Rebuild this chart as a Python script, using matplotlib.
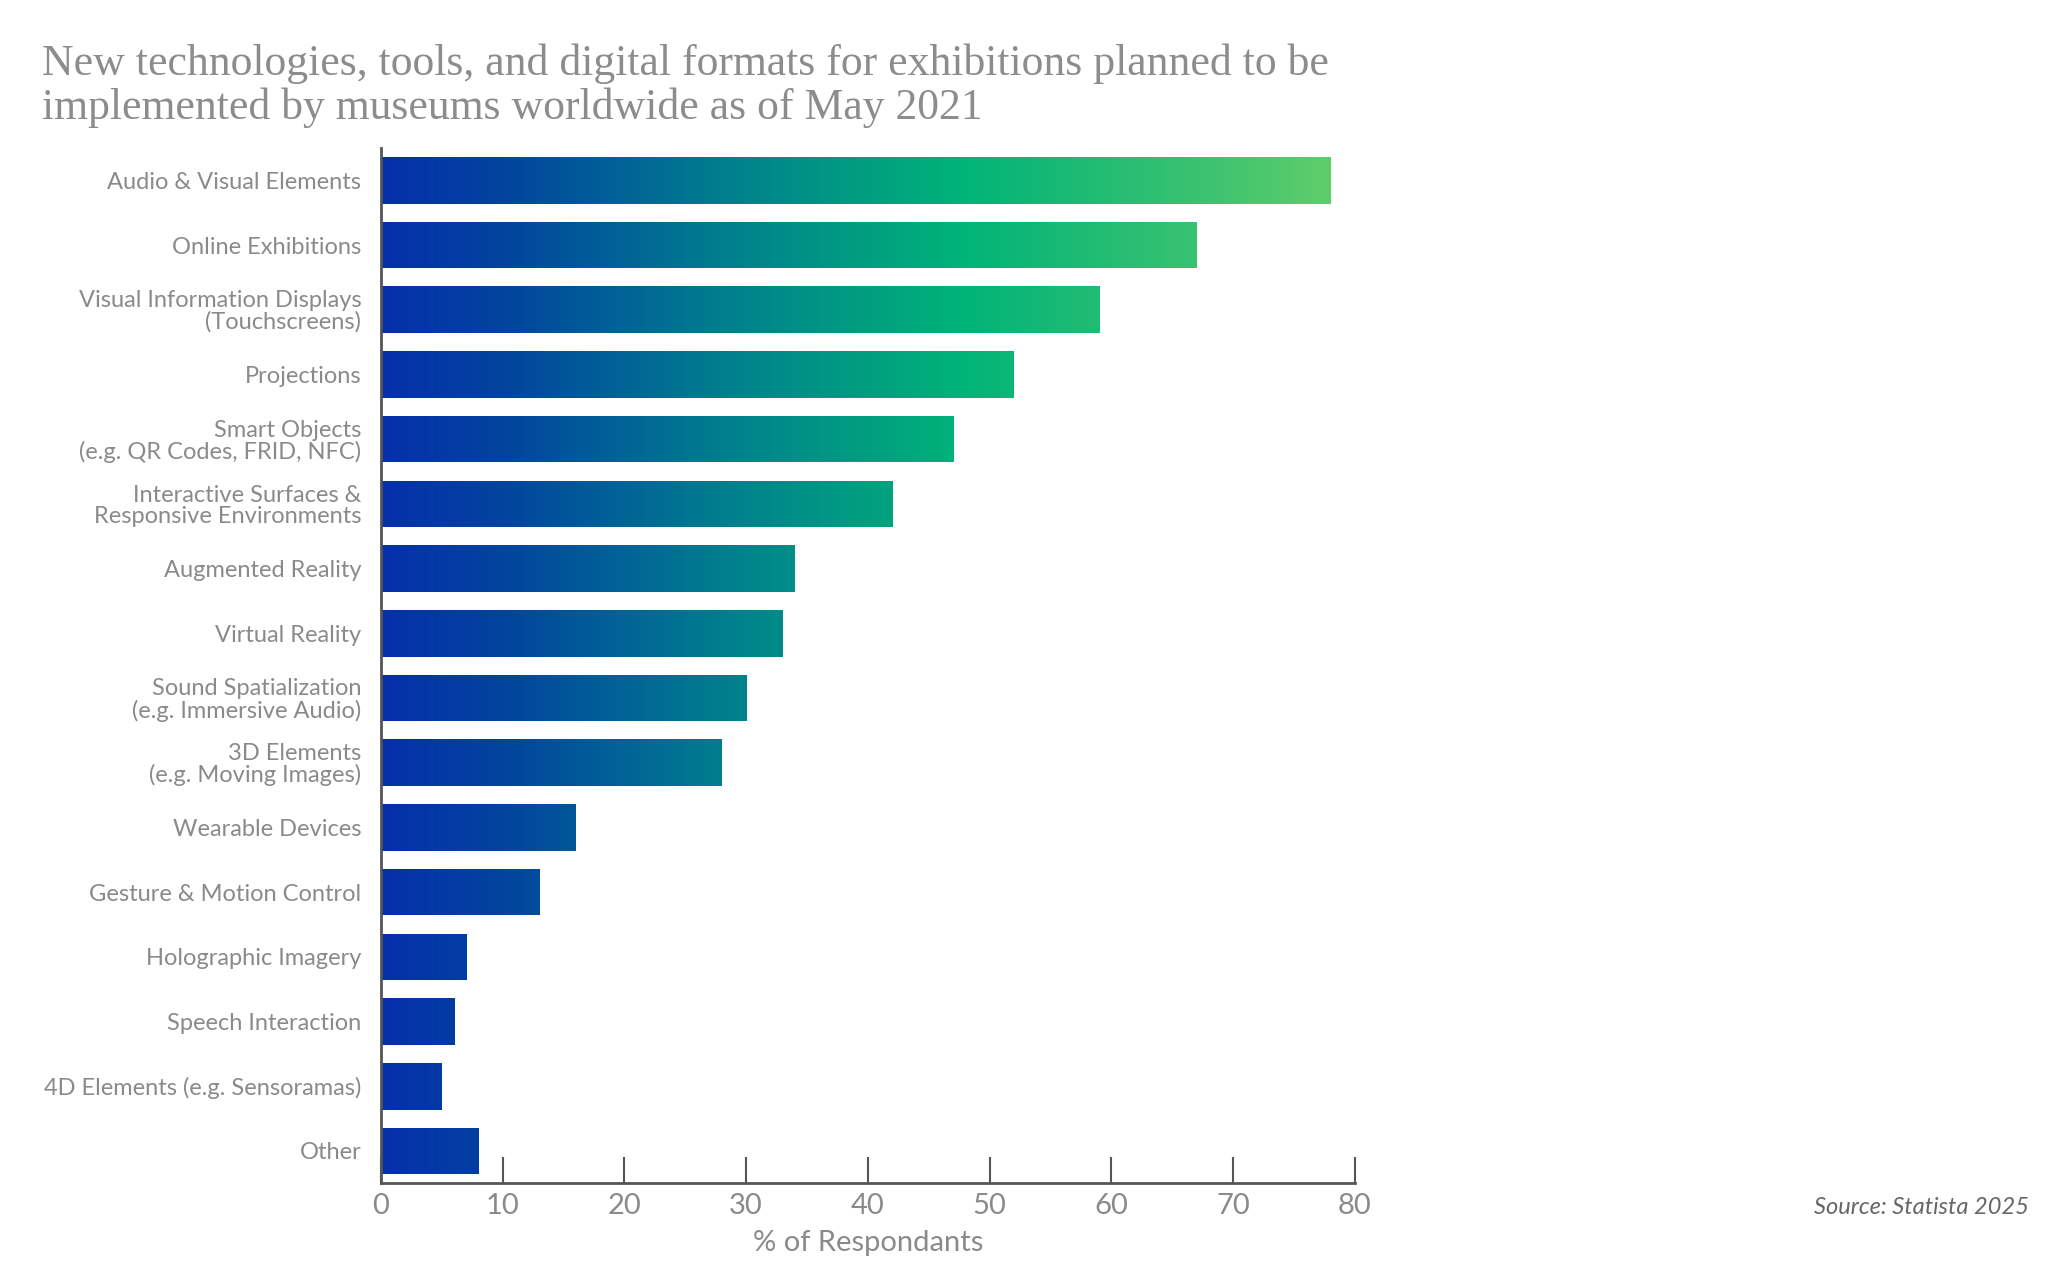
import numpy as np
import matplotlib
matplotlib.use('Agg')
import matplotlib.pyplot as plt
from matplotlib.colors import LinearSegmentedColormap

# Data
categories = [
    'Audio & Visual Elements',
    'Online Exhibitions',
    'Visual Information Displays\n(Touchscreens)',
    'Projections',
    'Smart Objects\n(e.g. QR Codes, FRID, NFC)',
    'Interactive Surfaces &\nResponsive Environments',
    'Augmented Reality',
    'Virtual Reality',
    'Sound Spatialization\n(e.g. Immersive Audio)',
    '3D Elements\n(e.g. Moving Images)',
    'Wearable Devices',
    'Gesture & Motion Control',
    'Holographic Imagery',
    'Speech Interaction',
    '4D Elements (e.g. Sensoramas)',
    'Other',
]
values = [78, 67, 59, 52, 47, 42, 34, 33, 30, 28, 16, 13, 7, 6, 5, 8]
xticks = [0, 10, 20, 30, 40, 50, 60, 70, 80]

title = ('New technologies, tools, and digital formats for exhibitions planned to be\n'
         'implemented by museums worldwide as of May 2021')

# gradient along the x axis (in data units 0..80)
grad_stops = [(0.0, '#0530aa'), (10 / 80, '#02449e'), (20 / 80, '#006496'),
              (30 / 80, '#00848c'), (40 / 80, '#009f80'), (48 / 80, '#00b478'),
              (58 / 80, '#1fbb74'), (68 / 80, '#3cc370'), (78 / 80, '#60cd6b'),
              (1.0, '#66cf6a')]
cmap = LinearSegmentedColormap.from_list('museum', grad_stops)

plt.rcParams['font.family'] = ['Lato', 'DejaVu Sans']

fig = plt.figure(figsize=(20.48, 12.82), dpi=100)
ax = fig.add_axes([0.186, 0.077, 0.4755, 0.8076])

y = np.arange(len(categories))
bars = ax.barh(y, values, height=0.72, color='none', edgecolor='none')

# fill each bar with the shared horizontal gradient
grad = np.linspace(0, 1, 512).reshape(1, -1)
for b in bars:
    im = ax.imshow(grad, cmap=cmap, aspect='auto', extent=(0, 80, 15.5, -0.5),
                   zorder=2, interpolation='bicubic')
    im.set_clip_path(b)

ax.set_xlim(0, 80)
ax.set_ylim(15.5, -0.5)
ax.set_yticks(y)
ax.set_yticklabels(categories, fontsize=17, color='#8a8a8a', linespacing=1.0)
ax.tick_params(axis='y', length=0, pad=14)
ax.set_xticks(xticks)
ax.set_xticklabels([str(t) for t in xticks], fontsize=21, color='#8a8a8a')
ax.tick_params(axis='x', direction='in', length=19, width=1.5, color='#555555', pad=7)

for side in ['top', 'right']:
    ax.spines[side].set_visible(False)
for side in ['left', 'bottom']:
    ax.spines[side].set_color('#555555')
    ax.spines[side].set_linewidth(2)

ax.set_xlabel('% of Respondants', fontsize=21, color='#8a8a8a', labelpad=8)

fig.text(0.0205, 0.966, title, fontsize=31.5, family=['Liberation Serif', 'DejaVu Serif'],
         color='#8c8c8c', va='top', ha='left', linespacing=1.1)
fig.text(0.9905, 0.0585, 'Source: Statista 2025', fontsize=17, style='italic',
         color='#666666', ha='right', va='center')

fig.savefig('out.png', dpi=100, facecolor='white')
